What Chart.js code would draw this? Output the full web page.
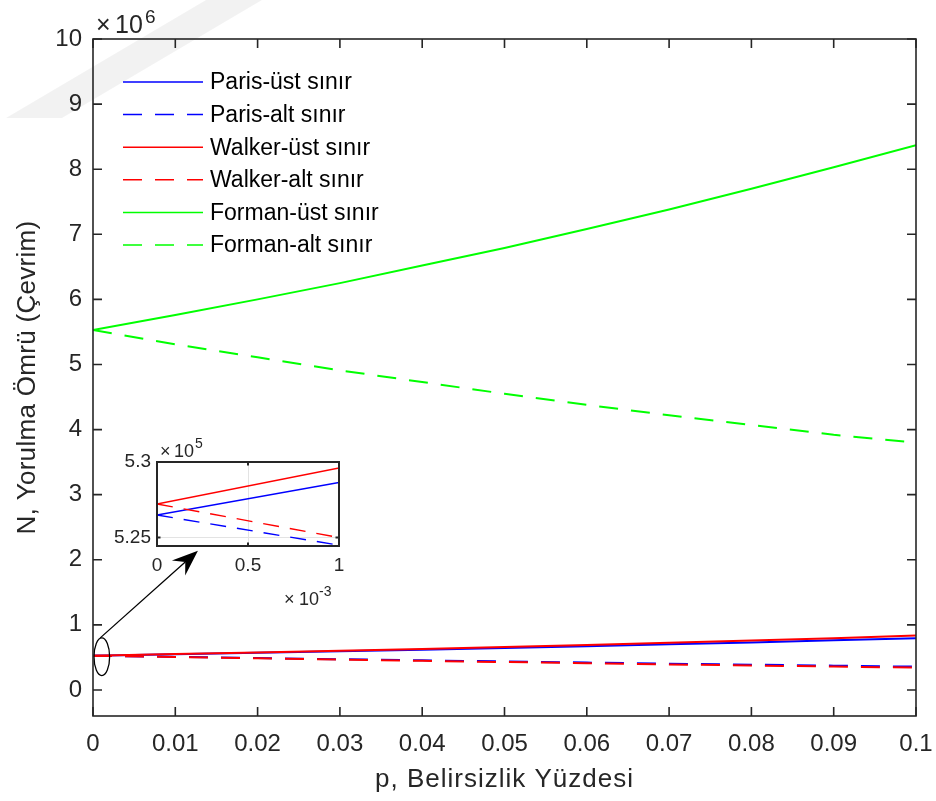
<!DOCTYPE html>
<html lang="tr">
<head>
  <meta charset="UTF-8" />
  <title>Yorulma Ömrü - Belirsizlik Yüzdesi</title>
  <script src="https://cdn.jsdelivr.net/npm/chart.js"></script>
  <style>
    body { margin: 0; background: #fff; }
    #wrap { position: relative; width: 936px; height: 801px; overflow: hidden; }
    #mainChart { position: absolute; left: 0; top: 0; }
    #insetChart { position: absolute; left: 100px; top: 430px; }
  </style>
</head>
<body>
  <div id="wrap">
    <canvas id="mainChart" width="936" height="801"></canvas>
    <canvas id="insetChart" width="250" height="190"></canvas>
  </div>

  <script>
    // belirsizlik yüzdesi (p) ve ömür değerleri (çevrim)
    const pValues = [0, 0.01, 0.02, 0.03, 0.04, 0.05, 0.06, 0.07, 0.08, 0.09, 0.1];
    const parisUst  = [0.5265e6, 0.548e6, 0.570e6, 0.594e6, 0.619e6, 0.645e6, 0.672e6, 0.701e6, 0.731e6, 0.762e6, 0.795e6];
    const parisAlt  = [0.5265e6, 0.508e6, 0.490e6, 0.472e6, 0.455e6, 0.438e6, 0.421e6, 0.404e6, 0.388e6, 0.373e6, 0.358e6];
    const walkerUst = [0.5272e6, 0.551e6, 0.576e6, 0.602e6, 0.630e6, 0.660e6, 0.691e6, 0.724e6, 0.759e6, 0.796e6, 0.835e6];
    const walkerAlt = [0.5272e6, 0.506e6, 0.486e6, 0.466e6, 0.447e6, 0.429e6, 0.411e6, 0.393e6, 0.376e6, 0.359e6, 0.343e6];
    const formanUst = [5.53e6, 5.76e6, 6.00e6, 6.25e6, 6.52e6, 6.79e6, 7.08e6, 7.38e6, 7.70e6, 8.03e6, 8.37e6];
    const formanAlt = [5.53e6, 5.31e6, 5.11e6, 4.91e6, 4.73e6, 4.55e6, 4.38e6, 4.22e6, 4.07e6, 3.92e6, 3.80e6];

    // yakınlaştırılmış bölge: p = 0 ... 1e-3
    const pInset         = [0, 0.001];
    const parisUstInset  = [526490, 528640];
    const parisAltInset  = [526490, 524490];
    const walkerUstInset = [527220, 529600];
    const walkerAltInset = [527220, 525000];

    const seriesNames = ['Paris-üst sınır', 'Paris-alt sınır', 'Walker-üst sınır', 'Walker-alt sınır', 'Forman-üst sınır', 'Forman-alt sınır'];

    const xTicks = [0, 0.01, 0.02, 0.03, 0.04, 0.05, 0.06, 0.07, 0.08, 0.09, 0.1];
    const yTicks = [0, 1e6, 2e6, 3e6, 4e6, 5e6, 6e6, 7e6, 8e6, 9e6, 10e6];
    const xTicksInset = [0, 0.0005, 0.001];
    const yTicksInset = [525000, 530000];

    // elips ve ok (veri koordinatlarında)
    const zoomEllipse = { x: 0.00107, y: 0.51e6, rx: 0.00095, ry: 0.29e6 };
    const zoomArrow = { x0: 0.00088, y0: 0.80e6, x1: 0.01275, y1: 2.14e6 };

    const FONT = '"Liberation Sans", Arial, Helvetica, sans-serif';
    const AX = '#262626';
    const BLUE = '#0000ff', RED = '#ff0000', GREEN = '#00ff00';
    const DASH = [19, 13];

    const pts = (xs, ys) => xs.map((x, i) => ({ x: x, y: ys[i] }));

    function lineSet(label, xs, ys, color, dashed, width, order) {
      return {
        label: label,
        data: pts(xs, ys),
        borderColor: color,
        backgroundColor: color,
        borderWidth: width,
        borderDash: dashed ? (width > 1.6 ? DASH : [16, 11]) : [],
        pointRadius: 0,
        fill: false,
        tension: 0,
        order: order
      };
    }

    // eksen kutusunun kenar boşluklarını sıfırla
    function noEdgePad(s) {
      s.paddingLeft = 0; s.paddingRight = 0;
      s.paddingTop = 0; s.paddingBottom = 0;
    }

    // kutu çerçevesi + içe dönük tick çizgileri
    function boxPlugin(tickLen, lineW) {
      return {
        id: 'box',
        afterDraw(chart) {
          const { ctx, chartArea: a, scales: { x, y } } = chart;
          ctx.save();
          ctx.strokeStyle = AX;
          ctx.lineWidth = lineW;
          ctx.beginPath();
          x.ticks.forEach(t => {
            const px = x.getPixelForValue(t.value);
            ctx.moveTo(px, a.bottom); ctx.lineTo(px, a.bottom - tickLen);
            ctx.moveTo(px, a.top); ctx.lineTo(px, a.top + tickLen);
          });
          y.ticks.forEach(t => {
            const py = y.getPixelForValue(t.value);
            ctx.moveTo(a.left, py); ctx.lineTo(a.left + tickLen, py);
            ctx.moveTo(a.right, py); ctx.lineTo(a.right - tickLen, py);
          });
          ctx.stroke();
          ctx.strokeRect(a.left, a.top, a.right - a.left, a.bottom - a.top);
          ctx.restore();
        }
      };
    }

    // arka plandaki soluk filigran
    const watermark = {
      id: 'watermark',
      beforeDraw(chart) {
        const ctx = chart.ctx;
        ctx.save();
        ctx.fillStyle = 'rgba(0,0,0,0.05)';
        ctx.beginPath();
        ctx.moveTo(6, 118); ctx.lineTo(62, 118); ctx.lineTo(262, 0); ctx.lineTo(206, 0);
        ctx.closePath();
        ctx.fill();
        ctx.restore();
      }
    };

    // elips + ok
    const zoomMarker = {
      id: 'zoomMarker',
      afterDatasetsDraw(chart) {
        const { ctx, scales: { x, y } } = chart;
        const cx = x.getPixelForValue(zoomEllipse.x), cy = y.getPixelForValue(zoomEllipse.y);
        const rx = x.getPixelForValue(zoomEllipse.x + zoomEllipse.rx) - cx;
        const ry = cy - y.getPixelForValue(zoomEllipse.y + zoomEllipse.ry);
        ctx.save();
        ctx.strokeStyle = '#000';
        ctx.lineWidth = 1.3;
        ctx.beginPath();
        ctx.ellipse(cx, cy, rx, ry, 0, 0, Math.PI * 2);
        ctx.stroke();

        const x0 = x.getPixelForValue(zoomArrow.x0), y0 = y.getPixelForValue(zoomArrow.y0);
        const x1 = x.getPixelForValue(zoomArrow.x1), y1 = y.getPixelForValue(zoomArrow.y1);
        const ang = Math.atan2(y1 - y0, x1 - x0);
        const ux = Math.cos(ang), uy = Math.sin(ang);
        const nx = -uy, ny = ux;
        const L = 26, W = 10, N = 17;
        ctx.beginPath();
        ctx.moveTo(x0, y0);
        ctx.lineTo(x1 - ux * N, y1 - uy * N);
        ctx.stroke();
        ctx.fillStyle = '#000';
        ctx.beginPath();
        ctx.moveTo(x1, y1);
        ctx.lineTo(x1 - ux * L + nx * W, y1 - uy * L + ny * W);
        ctx.lineTo(x1 - ux * N, y1 - uy * N);
        ctx.lineTo(x1 - ux * L - nx * W, y1 - uy * L - ny * W);
        ctx.closePath();
        ctx.fill();
        ctx.restore();
      }
    };

    // lejant, üs etiketi ve eksen başlıkları
    const mainDecor = {
      id: 'mainDecor',
      afterDraw(chart) {
        const { ctx, chartArea: a } = chart;
        ctx.save();
        // lejant
        ctx.font = '23px ' + FONT;
        ctx.textBaseline = 'middle';
        ctx.textAlign = 'left';
        chart.data.datasets.forEach((ds, i) => {
          const ry = 82 + i * 32.6;
          ctx.strokeStyle = ds.borderColor;
          ctx.lineWidth = 1.5;
          ctx.setLineDash(ds.borderDash.length ? DASH : []);
          ctx.beginPath();
          ctx.moveTo(123, ry); ctx.lineTo(203, ry);
          ctx.stroke();
          ctx.setLineDash([]);
          ctx.fillStyle = '#000';
          ctx.fillText(ds.label, 210, ry + 1);
        });

        // x10^6
        ctx.fillStyle = AX;
        ctx.textBaseline = 'alphabetic';
        ctx.font = '25px ' + FONT;
        ctx.fillText('\u00d7', a.left + 3, 33);
        ctx.fillText('10', a.left + 22, 33);
        ctx.font = '19px ' + FONT;
        ctx.fillText('6', a.left + 52, 23);

        // eksen başlıkları
        ctx.font = '26px ' + FONT;
        ctx.textAlign = 'center';
        ctx.textBaseline = 'middle';
        ctx.letterSpacing = '1px';
        ctx.fillText('p, Belirsizlik Yüzdesi', (a.left + a.right) / 2, 780);
        ctx.letterSpacing = '0.3px';
        ctx.translate(28, (a.top + a.bottom) / 2);
        ctx.rotate(-Math.PI / 2);
        ctx.fillText('N, Yorulma Ömrü (Çevrim)', 0, 0);
        ctx.restore();
      }
    };

    new Chart(document.getElementById('mainChart'), {
      type: 'line',
      data: {
        datasets: [
          lineSet(seriesNames[0], pValues, parisUst, BLUE, false, 2, 4),
          lineSet(seriesNames[1], pValues, parisAlt, BLUE, true, 2, 4),
          lineSet(seriesNames[2], pValues, walkerUst, RED, false, 2, 3),
          lineSet(seriesNames[3], pValues, walkerAlt, RED, true, 2, 3),
          lineSet(seriesNames[4], pValues, formanUst, GREEN, false, 2, 2),
          lineSet(seriesNames[5], pValues, formanAlt, GREEN, true, 2, 2)
        ]
      },
      options: {
        responsive: false,
        animation: false,
        layout: { padding: { left: 0, right: 20, top: 39, bottom: 0 } },
        plugins: { legend: { display: false }, tooltip: { enabled: false } },
        scales: {
          x: {
            type: 'linear',
            min: 0,
            max: 0.1,
            grid: { display: false, drawTicks: false },
            border: { display: false },
            afterBuildTicks: s => { s.ticks = xTicks.map(v => ({ value: v })); },
            afterFit: s => { s.height = 85; noEdgePad(s); },
            ticks: {
              color: AX,
              font: { family: FONT, size: 24 },
              padding: 14,
              maxRotation: 0,
              autoSkip: false,
              callback: v => String(+Number(v).toFixed(2))
            }
          },
          y: {
            type: 'linear',
            min: -0.4e6,
            max: 10e6,
            grid: { display: false, drawTicks: false },
            border: { display: false },
            afterBuildTicks: s => { s.ticks = yTicks.map(v => ({ value: v })); },
            afterFit: s => { s.width = 93; noEdgePad(s); },
            ticks: {
              color: AX,
              font: { family: FONT, size: 24 },
              padding: 11,
              autoSkip: false,
              callback: v => String(Math.round(v / 1e6))
            }
          }
        }
      },
      plugins: [watermark, zoomMarker, boxPlugin(9, 1.6), mainDecor]
    });

    // iç grafik etiketleri
    const insetDecor = {
      id: 'insetDecor',
      afterDraw(chart) {
        const { ctx, chartArea: a } = chart;
        ctx.save();
        ctx.fillStyle = AX;
        ctx.textAlign = 'left';
        ctx.textBaseline = 'alphabetic';
        ctx.font = '18px ' + FONT;
        ctx.fillText('\u00d7', a.left + 3, 27);
        ctx.fillText('10', a.left + 17, 27);
        ctx.font = '14px ' + FONT;
        ctx.fillText('5', a.left + 38, 18);
        ctx.font = '18px ' + FONT;
        ctx.fillText('\u00d7', a.right - 55, 175);
        ctx.fillText('10', a.right - 40, 175);
        ctx.font = '14px ' + FONT;
        ctx.fillText('-3', a.right - 20, 166);
        ctx.restore();
      }
    };

    const insetBg = {
      id: 'insetBg',
      beforeDraw(chart) {
        const { ctx, chartArea: a } = chart;
        ctx.save();
        ctx.fillStyle = '#fff';
        ctx.fillRect(a.left, a.top, a.right - a.left, a.bottom - a.top);
        ctx.restore();
      }
    };

    new Chart(document.getElementById('insetChart'), {
      type: 'line',
      data: {
        datasets: [
          lineSet(seriesNames[0], pInset, parisUstInset, BLUE, false, 1.4, 4),
          lineSet(seriesNames[1], pInset, parisAltInset, BLUE, true, 1.4, 4),
          lineSet(seriesNames[2], pInset, walkerUstInset, RED, false, 1.4, 3),
          lineSet(seriesNames[3], pInset, walkerAltInset, RED, true, 1.4, 3)
        ]
      },
      options: {
        responsive: false,
        animation: false,
        layout: { padding: { left: 0, right: 11, top: 32, bottom: 0 } },
        plugins: { legend: { display: false }, tooltip: { enabled: false } },
        scales: {
          x: {
            type: 'linear',
            min: 0,
            max: 0.001,
            grid: { display: true, drawTicks: false, color: '#e3e3e3', lineWidth: 1 },
            border: { display: false },
            afterBuildTicks: s => { s.ticks = xTicksInset.map(v => ({ value: v })); },
            afterFit: s => { s.height = 74; noEdgePad(s); },
            ticks: {
              color: AX,
              font: { family: FONT, size: 19 },
              padding: 8,
              maxRotation: 0,
              autoSkip: false,
              callback: v => String(+(v * 1000).toFixed(1))
            }
          },
          y: {
            type: 'linear',
            min: 524440,
            max: 530000,
            grid: { display: true, drawTicks: false, color: '#e3e3e3', lineWidth: 1 },
            border: { display: false },
            afterBuildTicks: s => { s.ticks = yTicksInset.map(v => ({ value: v })); },
            afterFit: s => { s.width = 57; noEdgePad(s); },
            ticks: {
              color: AX,
              font: { family: FONT, size: 19 },
              padding: 6,
              autoSkip: false,
              callback: v => String(+(v / 1e5).toFixed(2))
            }
          }
        }
      },
      plugins: [insetBg, boxPlugin(3.5, 2), insetDecor]
    });
  </script>
</body>
</html>
